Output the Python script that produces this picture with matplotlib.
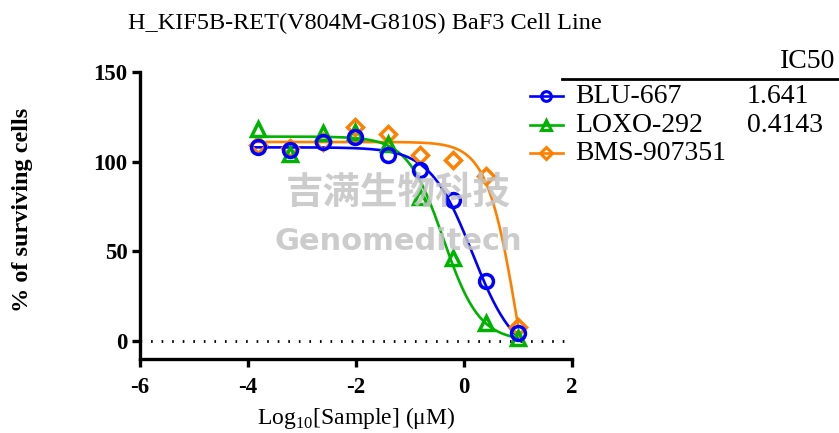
import matplotlib
matplotlib.use('Agg')
import matplotlib.pyplot as plt
from matplotlib.lines import Line2D
import numpy as np

plt.rcParams['font.family'] = ['Liberation Serif', 'DejaVu Serif']
plt.rcParams['mathtext.fontset'] = 'custom'
plt.rcParams['mathtext.rm'] = 'Liberation Serif'
plt.rcParams['axes.unicode_minus'] = False

# concentrations in uM (4-fold dilution from 10 uM)
conc = [0.000153, 0.00061, 0.00244, 0.00977, 0.0391, 0.156, 0.625, 2.5, 10.0]
blu667 = [108.2, 106.4, 111.0, 113.8, 103.6, 95.2, 78.9, 33.4, 4.3]
loxo292 = [118.0, 104.5, 116.0, 116.5, 110.0, 80.5, 46.5, 10.2, 1.5]
bms907351 = [109.5, 107.5, 111.0, 119.5, 115.3, 103.6, 101.2, 92.0, 8.0]

names = ['BLU-667', 'LOXO-292', 'BMS-907351']
ic50_text = ['1.641', '0.4143', '']
colors = ['#0000FF', '#00B300', '#FF8000']
markers = ['o', '^', 'D']
# 4PL fit parameters: top, bottom, logIC50, hill
fits = [(108, -10, 0.155, 1.1), (114, 0, -0.383, 1.3), (111, -100, 1.017, 1.5)]


def four_pl(x, top, bottom, logic50, hill):
    return bottom + (top - bottom) / (1 + 10 ** ((x - logic50) * hill))


fig = plt.figure(figsize=(8.39, 4.33), dpi=100)
ax = fig.add_axes([0.1669, 0.1709, 0.5149, 0.6628])

# watermark text
fig.text(0.475, 0.556, '吉满生物科技', family=['Noto Sans CJK SC'], fontsize=27,
         fontweight='bold', color='#c4c4c4', alpha=0.85, ha='center', va='center', zorder=0)
fig.text(0.475, 0.443, 'Genomeditech', family=['DejaVu Sans'], fontsize=22,
         fontweight='bold', color='#c4c4c4', alpha=0.85, ha='center', va='center', zorder=0)

logx = np.log10(conc)
xs = np.linspace(-3.9, 1.0, 300)
series = [blu667, loxo292, bms907351]

ax.plot([-6, 2], [0, 0], color='black', lw=2, linestyle=(0, (0.6, 3.2)), zorder=1)

for i in [2, 1, 0]:
    ax.plot(xs, four_pl(xs, *fits[i]), color=colors[i], lw=1.9, zorder=2)
    ms = {'o': 10, '^': 10.5, 'D': 8}[markers[i]]
    ax.plot(logx, series[i], linestyle='none', marker=markers[i], ms=ms,
            mfc='none', mec=colors[i], mew=2.5, zorder=3 + (2 - i))

ax.set_xlim(-6, 2)
ax.set_ylim(-10, 150)
ax.set_xticks([-6, -4, -2, 0, 2])
ax.set_yticks([0, 50, 100, 150])
for s in ['top', 'right']:
    ax.spines[s].set_visible(False)
for s in ['left', 'bottom']:
    ax.spines[s].set_linewidth(2.4)
ax.tick_params(width=2.4, length=6, labelsize=16.5, pad=3)
ax.tick_params(axis='x', pad=7)
for lab in ax.get_xticklabels() + ax.get_yticklabels():
    lab.set_fontweight('bold')

ax.set_xlabel(r'Log$_{10}$[Sample] ($\mathrm{\mu}$M)', fontsize=17, labelpad=5)
ax.set_ylabel('% of surviving cells', fontsize=17.5, fontweight='bold')
ax.yaxis.set_label_coords(-0.248, 0.519)
fig.text(0.435, 0.945, 'H_KIF5B-RET(V804M-G810S) BaF3 Cell Line', fontsize=17.5,
         ha='center', va='center')

# legend with IC50 table
fig.text(0.996, 0.857, 'IC50', fontsize=20, ha='right', va='center')
fig.add_artist(Line2D([0.67, 1.0], [0.818, 0.818], color='black', lw=2))
row_y = [0.778, 0.711, 0.646]
for i in range(3):
    fig.add_artist(Line2D([0.632, 0.671], [row_y[i], row_y[i]], color=colors[i], lw=1.9))
    ms = 7 if markers[i] != 'D' else 6
    fig.add_artist(Line2D([0.651], [row_y[i]], marker=markers[i], ms=ms, mfc='none',
                          mec=colors[i], mew=2.2))
    fig.text(0.686, row_y[i], names[i], fontsize=20, va='center')
    fig.text(0.890, row_y[i], ic50_text[i], fontsize=20, va='center')

fig.savefig('out.png', dpi=100)
